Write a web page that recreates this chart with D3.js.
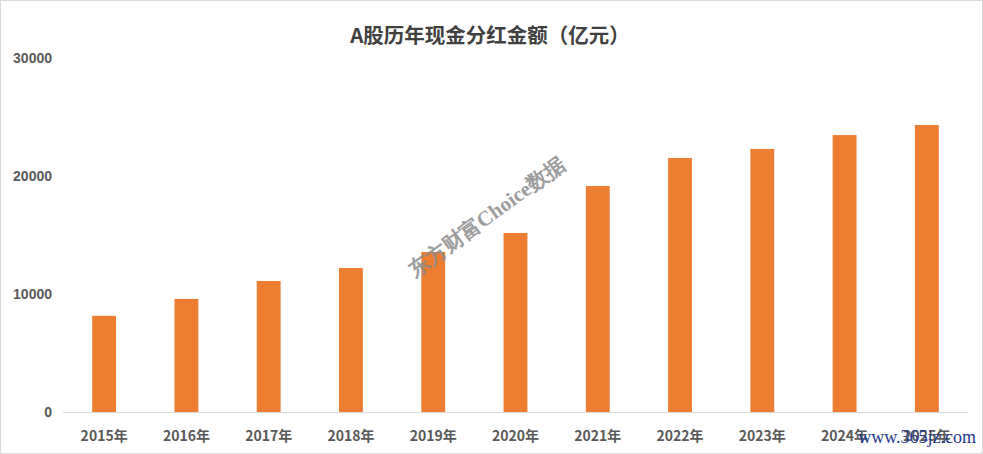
<!DOCTYPE html>
<html>
<head>
<meta charset="utf-8">
<script src="https://cdn.jsdelivr.net/npm/d3@7"></script>
<style>
body{margin:0;background:#fff;}
svg{display:block;}
</style>
</head>
<body>
<script>
// data (亿元)
var years = ["2015年","2016年","2017年","2018年","2019年","2020年","2021年","2022年","2023年","2024年","2025年"];
var amounts = [8150, 9580, 11100, 12200, 13560, 15170, 19150, 21530, 22290, 23470, 24320];
var yTicks = [0, 10000, 20000, 30000];

var width = 983, height = 454;
var plotLeft = 63, plotRight = 968, plotTop = 58, plotBottom = 412;

var svg = d3.select("body").append("svg")
	.attr("width", width)
	.attr("height", height);

// frame
svg.append("rect")
	.attr("x", 0.5).attr("y", 0.5)
	.attr("width", width - 1).attr("height", height - 1)
	.attr("fill", "#fff")
	.attr("stroke", "#d9d9d9");

var x = d3.scaleBand()
	.domain(years)
	.range([plotLeft, plotRight])
	.paddingInner(0.71)
	.paddingOuter(0.355);

var y = d3.scaleLinear()
	.domain([0, 30000])
	.range([plotBottom, plotTop]);

// title
svg.append("text")
	.attr("x", 490)
	.attr("y", 43)
	.attr("text-anchor", "middle")
	.attr("font-family", "'Noto Sans CJK SC', sans-serif")
	.attr("font-size", "20.5px")
	.attr("font-weight", "bold")
	.attr("fill", "#404040")
	.text("A股历年现金分红金额（亿元）");

// y labels
var yAxis = d3.axisLeft(y).tickValues(yTicks).tickSize(0).tickPadding(0).tickFormat(d3.format("d"));
var gy = svg.append("g").attr("transform", "translate(52,0)").call(yAxis);
gy.select(".domain").remove();
gy.selectAll("text")
	.attr("font-family", "'Liberation Sans', Arial, sans-serif")
	.attr("font-size", "14px")
	.attr("font-weight", "bold")
	.attr("fill", "#595959");

// bars
svg.selectAll("rect.bar")
	.data(amounts)
	.enter().append("rect")
	.attr("class", "bar")
	.attr("x", function(d, i){ return x(years[i]); })
	.attr("width", x.bandwidth())
	.attr("y", function(d){ return y(d); })
	.attr("height", function(d){ return plotBottom - y(d); })
	.attr("fill", "#ED7D31");

// x axis
var xAxis = d3.axisBottom(x).tickSize(0).tickPadding(0);
var gx = svg.append("g").attr("transform", "translate(0," + (plotBottom + 0.5) + ")").call(xAxis);
gx.select(".domain").attr("stroke", "#d9d9d9").attr("d", "M" + plotLeft + ",0H" + plotRight);
gx.selectAll("text")
	.attr("dy", 0)
	.attr("y", 28)
	.attr("font-family", "'Noto Sans CJK SC', sans-serif")
	.attr("font-size", "14px")
	.attr("font-weight", "bold")
	.attr("fill", "#595959");

// watermark
svg.append("text")
	.attr("transform", "translate(488,219) rotate(-36)")
	.attr("text-anchor", "middle")
	.attr("dominant-baseline", "middle")
	.attr("font-family", "'Liberation Serif', serif")
	.attr("font-size", "21px")
	.attr("font-weight", "bold")
	.attr("fill", "#8c8c8c")
	.attr("opacity", 0.85)
	.text("东方财富Choice数据");

// site mark
svg.append("text")
	.attr("x", 976)
	.attr("y", 443)
	.attr("text-anchor", "end")
	.attr("font-family", "'Liberation Serif', serif")
	.attr("font-size", "18px")
	.attr("fill", "#1f3a8c")
	.text("www.365jz.com");
</script>
</body>
</html>
